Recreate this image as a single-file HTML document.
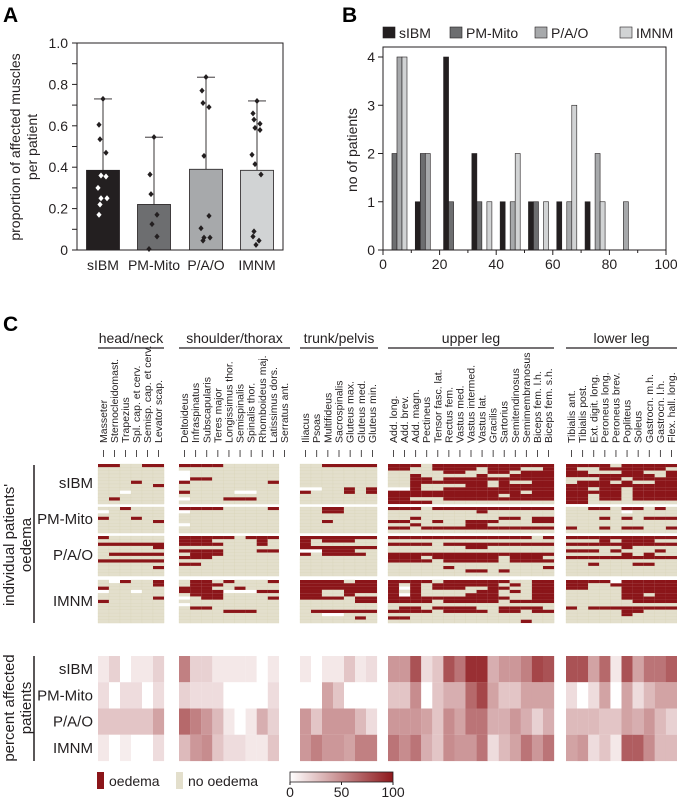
<!DOCTYPE html>
<html><head><meta charset="utf-8"><style>
html,body{margin:0;padding:0;background:#fff;}
svg{display:block;font-family:"Liberation Sans",sans-serif;}
</style></head><body>
<svg id="fig" width="677" height="797" viewBox="0 0 677 797" xmlns="http://www.w3.org/2000/svg">
<text x="3" y="22" font-size="21" font-weight="bold">A</text>
<text x="342" y="22" font-size="21" font-weight="bold">B</text>
<text x="3" y="331" font-size="21" font-weight="bold">C</text>
<g id="pa"></g>
<g id="pb"></g>
<g id="pc"></g>
</svg>
<script>
const NS="http://www.w3.org/2000/svg";
function mk(tag,attrs,parent,txt){const e=document.createElementNS(NS,tag);for(const k in attrs)e.setAttribute(k,attrs[k]);if(txt!==undefined)e.textContent=txt;parent.appendChild(e);return e;}

// ---------- Panel A data ----------
const aCategories=["sIBM","PM-Mito","P/A/O","IMNM"];
const aMeans=[0.385,0.22,0.39,0.385];
const aUpper=[0.73,0.545,0.835,0.72];
const aPointsSIBM=[0.73,0.605,0.535,0.47,0.36,0.355,0.30,0.25,0.25,0.22,0.17];
const aPointsPM=[0.545,0.365,0.27,0.17,0.125,0.065,0.005];
const aPointsPAO=[0.835,0.77,0.71,0.69,0.455,0.165,0.105,0.06,0.06,0.045];
const aPointsIMNM=[0.72,0.66,0.63,0.61,0.59,0.58,0.46,0.415,0.365,0.09,0.065,0.045,0.025];
const aTicks=[0,0.2,0.4,0.6,0.8,1.0];

// ---------- Panel B data ----------
const bBins=[0,10,20,30,40,50,60,70,80,90];
const bSIBM=[0,1,4,2,1,1,1,1,0,0];
const bPM=[2,2,1,1,0,1,0,0,0,0];
const bPAO=[4,2,0,0,1,0,1,2,1,0];
const bIMNM=[4,0,0,1,2,1,3,1,0,0];
const bYTicks=[0,1,2,3,4];
const bXTicks=[0,20,40,60,80,100];

// ---------- Panel C data ----------
const cGroups=["head/neck","shoulder/thorax","trunk/pelvis","upper leg","lower leg"];
const cMusclesHead=["Masseter","Sternocleidomast.","Trapezius","Spl. cap. et cerv.","Semisp. cap. et cerv.","Levator scap."];
const cMusclesShoulder=["Deltoideus","Infraspinatus","Subscapularis","Teres major","Longissimus thor.","Semispinalis","Spinalis thor.","Rhomboideus maj.","Latissimus dors.","Serratus ant."];
const cMusclesTrunk=["Iliacus","Psoas","Multifideus","Sacrospinalis","Gluteus max.","Gluteus med.","Gluteus min."];
const cMusclesUpper=["Add. long.","Add. brev.","Add. magn.","Pectineus","Tensor fasc. lat.","Rectus fem.","Vastus med.","Vastus intermed.","Vastus lat.","Gracilis","Sartorius","Semitendinosus","Semimembranosus","Biceps fem. l.h.","Biceps fem. s.h."];
const cMusclesLower=["Tibialis ant.","Tibialis post.","Ext. digit. long.","Peroneus long.","Peroneus brev.","Popliteus","Soleus","Gastrocn. m.h.","Gastrocn. l.h.","Flex. hall. long."];
const cPatientGroups=["sIBM","PM-Mito","P/A/O","IMNM"];
const oedemaSIBM=[
"110011|111100000|0011111|111011111111111|1111011111",
"000000|000000000|0000000|110011110111001|1001111110",
"000000|w00000000|0000000|000001100110111|1100011001",
"000000|w00000000|0000000|001000001001111|1111111101",
"000000|w11000000|0000000|001101111111111|0001101111",
"000100|100000001|0000000|001111111010011|0111010011",
"000001|000000000|0000000|001000011011111|1111111111",
"000000|000000000|ww00101|ww1001111111111|1101101111",
"00w000|10000ww00|1000101|111111111111011|1111101111",
"000000|000000000|0000000|111111111101111|1101101111",
"010000|w00011100|0000000|110001111111111|1101101111",
"000000|000000000|0000000|111100000000000|1100000000"];
const oedemaPM=[
"001000|111100001|0011000|111011111111111|0011011010",
"w00000|w00000000|0011000|000000001000000|00000w0000",
"000000|000000000|0000000|000000000000000|0000000000",
"100100|000000000|0000000|001000000011011|0001010111",
"000001|000000000|0010000|110010011100011|0000000000",
"000000|w00000000|0000000|001000011000000|0000000000",
"000000|000000000|0000000|110111111111111|1001011001",
"000000|000000000|0000000|000000000000000|0000000000"];
const oedemaPAO=[
"100000|111110111|1111111|111111111111101|1111111111",
"000000|111000010|1011100|000000000000000|0001011100",
"111111|111100010|1000000|111101111111111|1111111111",
"000001|000000000|1111111|000000011000000|0000010000",
"000000|111100011|ww11100|000000000000000|1110100010",
"011111|011100000|1011110|111111111111111|0000010100",
"000000|111000000|0000000|111011111101110|1111111111",
"111111|000000000|0000000|111101111101111|0000000000",
"000000|110000000|0000000|000000000000000|0010001100",
"000001|000000000|0000000|000001000000001|0000000000",
"000000|000000000|0000000|000000011010000|0000000000",
"000000|000000000|0000000|000000000000000|0000000000"];
const oedemaIMNM=[
"0w1001|011010001|1111011|111101111110011|1111w11111",
"000001|011100000|1111111|101011111101011|1100111111",
"100000|111001000|1111111|1w1011100110011|1100011111",
"w00w00|1111www11|1100111|101000001101011|0000011111",
"000000|011100000|1100100|1w1000011100011|0000011011",
"000001|w01100001|1111011|111111111110011|0000011111",
"100000|000000000|0000011|111101111101111|0000001111",
"000000|w00000000|0000000|000000000000000|0000000000",
"000000|011000000|0000000|011011110011110|1011111111",
"000000|000011100|0111111|111101111011011|0000011000",
"000000|000000000|00ww000|000000000000000|0000010000",
"000000|000000000|0000010|110000000000000|0000000000",
"000000|000000000|0000000|000000000000100|0000000000"];
const pctSIBM=[10,20,0,10,10,20, 55,20,20,10,10,10,10,0,10, 10,0,10,10,25,10,15, 45,45,75,15,25,75,60,90,90,35,45,45,55,80,75, 75,75,40,65,10,75,40,60,60,70];
const pctPM=[15,0,15,15,0,15, 20,15,15,15,0,0,0,0,15, 0,0,40,25,0,0,0, 25,25,50,0,25,35,35,65,80,40,25,25,40,40,40, 15,0,15,40,0,40,15,30,40,40];
const pctPAO=[25,25,25,25,25,40, 65,55,45,30,10,0,10,35,20, 45,25,45,45,45,30,15, 45,45,45,40,25,50,40,60,60,35,35,45,35,20,35, 30,30,30,25,25,40,35,45,30,20];
const pctIMNM=[10,0,8,0,0,15, 30,45,50,25,15,15,10,10,25, 45,55,45,45,40,55,55, 60,50,60,35,25,50,45,45,60,15,30,40,60,45,60, 40,45,15,25,10,70,70,50,30,30];
const cbTicks=[0,50,100];

// ================= Panel A =================
(function(){
const g=document.getElementById('pa');
const x0=77,x1=283,yT=43,yB=250;
const ys=v=>yB-(yB-yT)*v;
const centers=[103,154,206,257];
const fills=["#231f20","#6d6e70","#a7a9ab","#d1d3d4"];
const pts=[aPointsSIBM,aPointsPM,aPointsPAO,aPointsIMNM];
const jit=[0,-4,-3,3,-2,3,-5,-2,4,-3,-4,2,-1];
aCategories.forEach((c,i)=>{
  const cx=centers[i];
  const r=mk('rect',{x:cx-16.5,y:ys(aMeans[i]),width:33,height:yB-ys(aMeans[i]),fill:fills[i],stroke:"#231f20","stroke-width":0.8},g);
  
  
  const e=mk('path',{d:`M${cx} ${ys(aMeans[i])}V${ys(aUpper[i])}M${cx-9} ${ys(aUpper[i])}H${cx+9}`,stroke:"#231f20","stroke-width":0.9,fill:"none"},g);
  
  
  pts[i].forEach((v,j)=>{
    const px=cx+jit[j%jit.length], py=ys(v);
    const col=(i===0&&v<aMeans[i])?"#fff":"#231f20";
    const d=mk('path',{d:`M${px} ${py-3}L${px+2.6} ${py}L${px} ${py+3}L${px-2.6} ${py}Z`,fill:col},g);
    
    
  });
  const t=mk('text',{x:cx,y:270,"font-size":14,"text-anchor":"middle",fill:"#231f20"},g,c);
  
  
});
const fr=mk('path',{d:`M${x0} ${yT}H${x1}V${yB}H${x0}Z`,fill:"none",stroke:"#231f20","stroke-width":1},g);


for(let v=0;v<=1.0001;v+=0.1){mk('line',{x1:x0-5,x2:x0,y1:ys(v),y2:ys(v),stroke:"#231f20","stroke-width":1},g);}
aTicks.forEach(v=>{
  const t=mk('text',{x:x0-9,y:ys(v)+5,"font-size":14,"text-anchor":"end",fill:"#231f20"},g,v===0?"0":v.toFixed(1));
  
  
});
const yl=mk('text',{transform:"translate(20,147) rotate(-90)","font-size":14,"text-anchor":"middle",fill:"#231f20"},g);


mk('tspan',{x:0,y:0},yl,"proportion of affected muscles");
mk('tspan',{x:0,y:17},yl,"per patient");
})();

// ================= Panel B =================
(function(){
const g=document.getElementById('pb');
const x0=383,x1=666,yT=47,yB=250;
const xs=v=>x0+(x1-x0)*v/100;
const ys=v=>yB-(yB-57)*v/4;
const fills=["#231f20","#6d6e70","#a7a9ab","#d1d3d4"];
const series=[bSIBM,bPM,bPAO,bIMNM];
const names=["sIBM","PM-Mito","P/A/O","IMNM"];
const bw=1.77;
series.forEach((s,si)=>{
  s.forEach((v,bi)=>{
    if(!v)return;
    const xa=xs(bBins[bi]+1.4+si*bw), xb=xs(bBins[bi]+1.4+(si+1)*bw);
    const r=mk('rect',{x:xa,y:ys(v),width:xb-xa,height:yB-ys(v),fill:fills[si],stroke:"#231f20","stroke-width":0.6},g);
    
    
  });
});
const fr=mk('path',{d:`M${x0} ${yT}H${x1}V${yB}H${x0}Z`,fill:"none",stroke:"#231f20","stroke-width":1},g);


bYTicks.forEach(v=>{
  mk('line',{x1:x0-5,x2:x0,y1:ys(v),y2:ys(v),stroke:"#231f20"},g);
  const t=mk('text',{x:x0-8,y:ys(v)+5,"font-size":14,"text-anchor":"end",fill:"#231f20"},g,String(v));
  
  
});
for(let v=0;v<=100;v+=10){mk('line',{x1:xs(v),x2:xs(v),y1:yB,y2:yB+(v%20?3:5),stroke:"#231f20"},g);}
bXTicks.forEach(v=>{
  const t=mk('text',{x:xs(v),y:yB+19,"font-size":14,"text-anchor":"middle",fill:"#231f20"},g,String(v));
  
  
});
const yl=mk('text',{transform:"translate(357,150) rotate(-90)","font-size":14,"text-anchor":"middle",fill:"#231f20"},g,"no of patients");


const lx=[383,450,535,620];
names.forEach((n,i)=>{
  const r=mk('rect',{x:lx[i],y:27,width:12,height:11,fill:fills[i],stroke:"#231f20","stroke-width":0.6},g);
  
  
  const t=mk('text',{x:lx[i]+16,y:38,"font-size":14,fill:"#231f20"},g,n);
  
  
});
})();

// ================= Panel C =================
(function(){
const g=document.getElementById('pc');
const blocks=[
 {x:98,n:6,w:11,lab:cMusclesHead,lx:98,lw:66},
 {x:179,n:9,w:11.1,lab:cMusclesShoulder,lx:179,lw:111},
 {x:300,n:7,w:11,lab:cMusclesTrunk,lx:300,lw:78},
 {x:388,n:15,w:11.07,lab:cMusclesUpper,lx:388,lw:166},
 {x:566,n:10,w:11.1,lab:cMusclesLower,lx:566,lw:111}];
blocks.forEach((b,i)=>{
  const cx=b.lx+b.lw/2;
  const t=mk('text',{x:cx,y:343,"font-size":14,"text-anchor":"middle",fill:"#231f20"},g,cGroups[i]);
  
  
  const l=mk('line',{x1:b.lx,x2:b.lx+b.lw,y1:348,y2:348,stroke:"#231f20","stroke-width":1.2},g);
  
  
  const sp=b.lw/b.lab.length;
  b.lab.forEach((m,j)=>{
    const x=b.lx+sp*(j+0.5)+3.5;
    const mt=mk('text',{transform:`translate(${x},443) rotate(-90)`,"font-size":10.5,fill:"#231f20"},g,m);
    
    
    mk('line',{x1:x-3.5,x2:x-3.5,y1:450,y2:457,stroke:"#231f20","stroke-width":0.8},g);
  });
});
// individual heatmap
const groupsData=[oedemaSIBM,oedemaPM,oedemaPAO,oedemaIMNM];
const gY=[[464,504],[507,533],[536,576],[580,623]];
const labY=[488,524,560,606];
groupsData.forEach((rows,gi)=>{
  const rh=(gY[gi][1]-gY[gi][0])/rows.length;
  rows.forEach((row,ri)=>{
    const parts=row.split('|');
    parts.forEach((p,bi)=>{
      const b=blocks[bi];
      for(let c=0;c<b.n;c++){
        const ch=p[c]||'0';
        const col=ch==='1'?"#8b1519":(ch==='w'?"#ffffff":"#e3dfcc");
        const r=mk('rect',{x:b.x+c*b.w,y:gY[gi][0]+ri*rh,width:b.w+0.05,height:rh+0.05,fill:col,stroke:ch==='0'?"#d8d3b5":"none","stroke-width":0.25},g);
        
        
      }
    });
  });
  const t=mk('text',{x:93,y:labY[gi],"font-size":15,"text-anchor":"end",fill:"#231f20"},g,cPatientGroups[gi]);
  
  
});
mk('line',{x1:34,x2:34,y1:465,y2:623,stroke:"#231f20","stroke-width":1.5},g);
const il=mk('text',{transform:"translate(14,545) rotate(-90)","font-size":15,"text-anchor":"middle",fill:"#231f20"},g);


mk('tspan',{x:0,y:0},il,"individual patients'");
mk('tspan',{x:0,y:17},il,"oedema");
// percent heatmap
const pct=[pctSIBM,pctPM,pctPAO,pctIMNM];
const pY=656,pH=26.25;
const colr=v=>{const f=v/100;return `rgb(${Math.round(255+(142-255)*f)},${Math.round(255+(24-255)*f)},${Math.round(255+(28-255)*f)})`;};
pct.forEach((arr,gi)=>{
  let k=0;
  blocks.forEach(b=>{
    for(let c=0;c<b.n;c++){
      const v=arr[k++];
      const r=mk('rect',{x:b.x+c*b.w,y:pY+gi*pH,width:b.w+0.1,height:pH+0.1,fill:colr(v)},g);
      
      
    }
  });
  const t=mk('text',{x:93,y:pY+gi*pH+18,"font-size":15,"text-anchor":"end",fill:"#231f20"},g,cPatientGroups[gi]);
  
  
});
mk('line',{x1:34,x2:34,y1:656,y2:761,stroke:"#231f20","stroke-width":1.5},g);
const pl=mk('text',{transform:"translate(14,708) rotate(-90)","font-size":15,"text-anchor":"middle",fill:"#231f20"},g);


mk('tspan',{x:0,y:0},pl,"percent affected");
mk('tspan',{x:0,y:17},pl,"patients");
// legend
const s1=mk('rect',{x:97,y:772,width:7,height:17,fill:"#8b1519"},g);


const t1=mk('text',{x:109,y:786,"font-size":14,fill:"#231f20"},g,"oedema");


const s2=mk('rect',{x:176,y:772,width:7,height:17,fill:"#e3dfcc"},g);


const t2=mk('text',{x:188,y:786,"font-size":14,fill:"#231f20"},g,"no oedema");


const defs=mk('defs',{},g);
const lg=mk('linearGradient',{id:"cb",x1:0,x2:1,y1:0,y2:0},defs);
mk('stop',{offset:0,"stop-color":"#ffffff"},lg);
mk('stop',{offset:1,"stop-color":"#8e181c"},lg);
const cb=mk('rect',{x:290,y:772,width:103,height:10,fill:"url(#cb)",stroke:"#231f20","stroke-width":0.8},g);


cbTicks.forEach(v=>{
  const x=290+103*v/100;
  mk('line',{x1:x,x2:x,y1:782,y2:785,stroke:"#231f20"},g);
  const t=mk('text',{x:x,y:797,"font-size":14,"text-anchor":"middle",fill:"#231f20"},g,String(v));
  
  
});
})();
</script>
</body></html>
